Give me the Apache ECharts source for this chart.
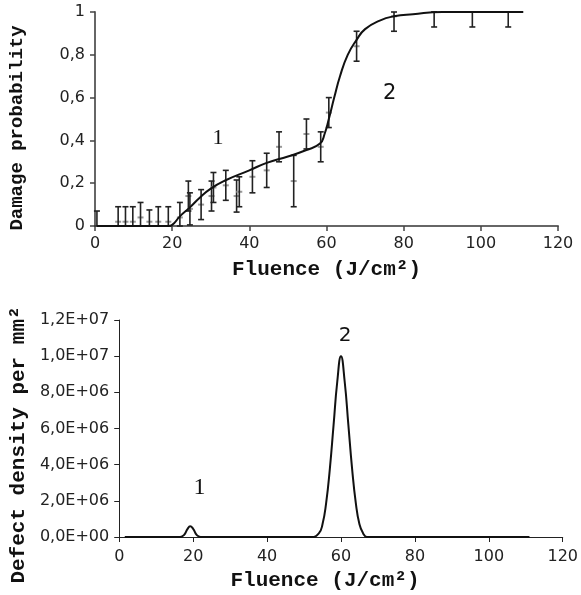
<!DOCTYPE html>
<html>
<head>
<meta charset="utf-8">
<script src="https://cdn.jsdelivr.net/npm/echarts@6/dist/echarts.min.js"></script>
<style>
  html, body { margin: 0; padding: 0; background: #fff; }
  #main { width: 581px; height: 595px; }
</style>
</head>
<body>
<div id="main"></div>
<script>
// damage probability measurements (top)
var fluence = [0.5, 6.0, 7.9, 9.8, 11.8, 14.1, 16.4, 19.0, 22.0, 24.2, 24.6, 27.5, 30.2, 30.7, 33.9, 36.7, 37.4, 40.8, 44.5, 47.7, 51.5, 54.8, 58.5, 60.6, 67.8, 77.5, 87.9, 97.8, 107.1];
var prob = [0, 0.02, 0.02, 0.02, 0.04, 0.02, 0.02, 0.02, 0.04, 0.14, 0.08, 0.10, 0.14, 0.18, 0.19, 0.14, 0.16, 0.23, 0.26, 0.37, 0.21, 0.43, 0.37, 0.53, 0.84, 0.98, 1, 1, 1];
var probErr = [0.07, 0.07, 0.07, 0.07, 0.07, 0.055, 0.07, 0.07, 0.07, 0.07, 0.075, 0.07, 0.07, 0.07, 0.07, 0.075, 0.07, 0.075, 0.08, 0.07, 0.12, 0.07, 0.07, 0.07, 0.07, 0.07, 0.07, 0.07, 0.07];

// fitted curve (top)
var fitX = [0.5, 18, 19, 20, 22, 24.6, 27, 30, 34, 40, 44.5, 50, 54.8, 58.3, 59.5, 60.6, 62, 63.5, 65.5, 67.8, 70, 73.8, 77.5, 82.4, 90, 111];
var fitY = [0, 0, 0, 0.005, 0.045, 0.087, 0.13, 0.175, 0.215, 0.26, 0.295, 0.325, 0.355, 0.385, 0.43, 0.5, 0.6, 0.7, 0.8, 0.87, 0.92, 0.96, 0.98, 0.99, 1, 1];

// defect density (bottom)
var densX = [1.5, 15.5, 16.5, 17.5, 18.5, 19.2, 20, 21, 22, 23, 51, 52, 54, 55, 56, 57, 58, 59, 60, 61, 62, 63, 64, 65, 66, 67, 68, 111];
var densY = [0, 0, 0, 1e5, 4.5e5, 6e5, 4.5e5, 1e5, 0, 0, 0, 0, 2e5, 7e5, 1.9e6, 3.8e6, 6.2e6, 8.6e6, 1e7, 8.6e6, 6.2e6, 3.8e6, 1.9e6, 7e5, 2e5, 0, 0, 0];

var fluenceTicks = [0, 120, 20];
var probTicks = [0, 1, 0.2];
var densTicks = [0, 1.2e7, 2e6];

var topLabels = [{ text: '1', x: 31.9, y: 0.41, font: 'Liberation Serif', size: 22 },
                 { text: '2', x: 76.4, y: 0.62, font: 'DejaVu Sans', size: 21 }];
var botLabels = [{ text: '1', x: 21.7, y: 2.7e6, font: 'Liberation Serif', size: 24 },
                 { text: '2', x: 61.1, y: 1.11e7, font: 'DejaVu Sans', size: 20 }];

(function(){
  var myChart = echarts.init(document.getElementById('main'))

  function zip(a, b) {
    return a.map(function(v, i){ return [v, b[i]] })
  }
  function probFmt(v) {
    if (v === 0 || v === 1) return String(v)
    return v.toFixed(1).replace('.', ',')
  }
  function sciFmt(v) {
    if (v === 0) return '0,0E+00'
    var e = Math.floor(Math.log10(v) + 1e-9)
    var m = v / Math.pow(10, e)
    return m.toFixed(1).replace('.', ',') + 'E+' + (e < 10 ? '0' : '') + e
  }
  function marks(list) {
    return list.map(function(l){
      return {
        coord: [l.x, l.y],
        label: { formatter: l.text, fontFamily: l.font, fontSize: l.size, color: '#111' }
      }
    })
  }

  var errData = fluence.map(function(x, i){
    return [x, Math.max(0, prob[i] - probErr[i]), Math.min(1, prob[i] + probErr[i]), prob[i]]
  })

  var labelStyle = { color: '#222', fontFamily: 'DejaVu Sans', fontSize: 16 }
  var nameStyle = { color: '#111', fontFamily: 'Liberation Mono', fontWeight: 'bold', fontSize: 21 }

  var option = {
    animation: false,
    grid: [
      { left: 95, top: 12, width: 463, height: 214 },
      { left: 117.5, top: 320, width: 450, height: 217 }
    ],
    xAxis: [{
      gridIndex: 0, type: 'value',
      min: fluenceTicks[0], max: fluenceTicks[1], interval: fluenceTicks[2],
      name: 'Fluence (J/cm²)', nameLocation: 'middle', nameGap: 33,
      nameTextStyle: nameStyle,
      axisLine: { lineStyle: { color: '#666', width: 2 } },
      axisTick: { length: 5, lineStyle: { color: '#444', width: 1.5 } },
      axisLabel: Object.assign({ margin: 10 }, labelStyle),
      splitLine: { show: false }
    }, {
      gridIndex: 1, type: 'value',
      min: fluenceTicks[0], max: fluenceTicks[1], interval: fluenceTicks[2],
      name: 'Fluence (J/cm²)', nameLocation: 'middle', nameGap: 33,
      nameTextStyle: Object.assign({ padding: [0, 32, 0, 0] }, nameStyle),
      axisLine: { lineStyle: { color: '#222', width: 1 } },
      axisTick: { length: 5, lineStyle: { color: '#222' } },
      axisLabel: Object.assign({ margin: 12 }, labelStyle),
      splitLine: { show: false }
    }],
    yAxis: [{
      gridIndex: 0, type: 'value',
      min: probTicks[0], max: probTicks[1], interval: probTicks[2],
      name: 'Damage probability', nameLocation: 'middle', nameGap: 68, nameRotate: 90,
      nameTextStyle: Object.assign({ padding: [0, 18, 0, 0] }, nameStyle, { fontSize: 19 }),
      axisLine: { show: true, lineStyle: { color: '#666', width: 2 } },
      axisTick: { show: true, length: 5, lineStyle: { color: '#444', width: 1.5 } },
      axisLabel: Object.assign({ margin: 10, formatter: probFmt }, labelStyle),
      splitLine: { show: false }
    }, {
      gridIndex: 1, type: 'value',
      min: densTicks[0], max: densTicks[1], interval: densTicks[2],
      name: 'Defect density per mm²', nameLocation: 'middle', nameGap: 89, nameRotate: 90,
      nameTextStyle: Object.assign({ padding: [0, 33, 0, 0] }, nameStyle),
      axisLine: { show: true, lineStyle: { color: '#222', width: 1 } },
      axisTick: { show: true, length: 5, lineStyle: { color: '#222' } },
      axisLabel: Object.assign({ margin: 10, formatter: sciFmt }, labelStyle),
      splitLine: { show: false }
    }],
    series: [{
      type: 'custom',
      xAxisIndex: 0, yAxisIndex: 0,
      data: errData,
      z: 2,
      renderItem: function(params, api) {
        var lo = api.coord([api.value(0), api.value(1)])
        var hi = api.coord([api.value(0), api.value(2)])
        var mid = api.coord([api.value(0), api.value(3)])
        var st = { stroke: '#222', lineWidth: 1.6 }
        return {
          type: 'group',
          children: [
            { type: 'line', shape: { x1: mid[0] - 3, y1: mid[1], x2: mid[0] + 3, y2: mid[1] }, style: { stroke: '#999', lineWidth: 2 } },
            { type: 'line', shape: { x1: lo[0], y1: lo[1], x2: hi[0], y2: hi[1] }, style: st },
            { type: 'line', shape: { x1: hi[0] - 3, y1: hi[1], x2: hi[0] + 3, y2: hi[1] }, style: st },
            { type: 'line', shape: { x1: lo[0] - 3, y1: lo[1], x2: lo[0] + 3, y2: lo[1] }, style: st }
          ]
        }
      }
    }, {
      type: 'line',
      xAxisIndex: 0, yAxisIndex: 0,
      data: zip(fitX, fitY),
      smooth: 0.5,
      showSymbol: false,
      z: 3,
      lineStyle: { color: '#111', width: 2 },
      markPoint: { symbol: 'circle', symbolSize: 0, data: marks(topLabels) }
    }, {
      type: 'line',
      xAxisIndex: 1, yAxisIndex: 1,
      data: zip(densX, densY),
      smooth: 0.5,
      showSymbol: false,
      lineStyle: { color: '#111', width: 2 },
      markPoint: { symbol: 'circle', symbolSize: 0, data: marks(botLabels) }
    }]
  }
  myChart.setOption(option)
})();
</script>
</body>
</html>
